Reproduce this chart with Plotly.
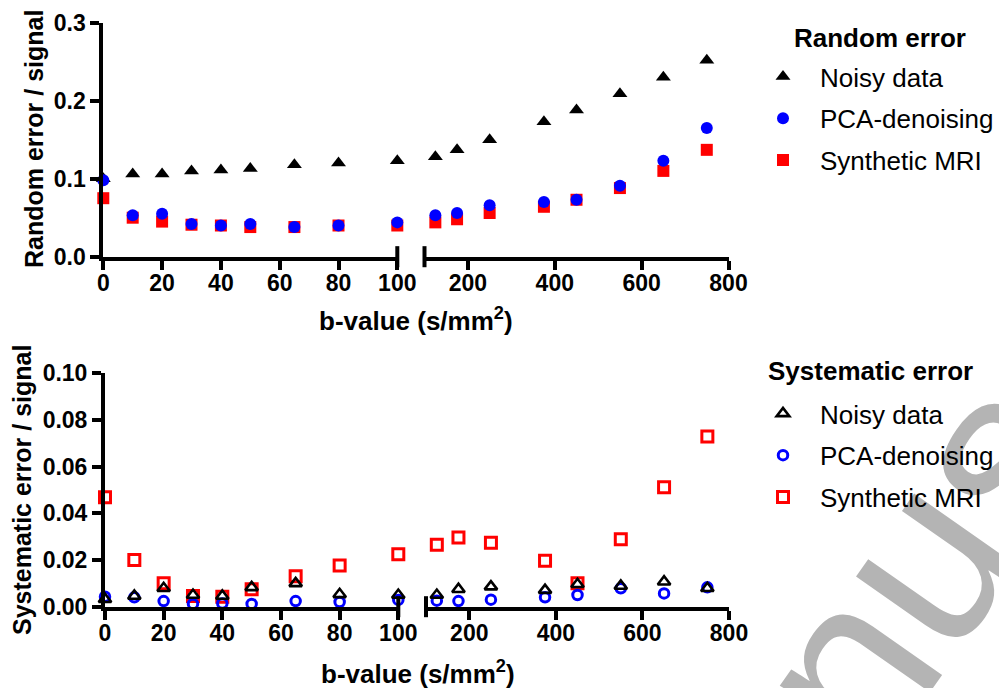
import plotly.graph_objects as go

# ---------------- data ----------------
b_values = [0, 10, 20, 30, 40, 50, 65, 80, 100, 125, 175, 250, 375, 450, 550, 650, 750]
series_names = ["Noisy data", "PCA-denoising", "Synthetic MRI"]

rand_noisy = [0.100, 0.106, 0.106, 0.110, 0.111, 0.113, 0.118, 0.120, 0.123,
              0.128, 0.137, 0.150, 0.173, 0.188, 0.209, 0.230, 0.252]
rand_pca = [0.098, 0.053, 0.055, 0.042, 0.040, 0.042, 0.038, 0.040, 0.044,
            0.053, 0.056, 0.066, 0.070, 0.073, 0.091, 0.123, 0.165]
rand_synth = [0.075, 0.050, 0.045, 0.041, 0.040, 0.038, 0.038, 0.040, 0.040,
              0.044, 0.048, 0.056, 0.064, 0.073, 0.088, 0.110, 0.137]

sys_noisy = [0.0032, 0.0046, 0.0079, 0.0050, 0.0046, 0.0083, 0.0100, 0.0053, 0.0050,
             0.0050, 0.0075, 0.0086, 0.0071, 0.0096, 0.0089, 0.0107, 0.0079]
sys_pca = [0.0043, 0.0040, 0.0024, 0.0012, 0.0014, 0.0012, 0.0024, 0.0020, 0.0029,
           0.0026, 0.0024, 0.0030, 0.0040, 0.0050, 0.0079, 0.0057, 0.0083]
sys_synth = [0.0469, 0.0200, 0.0100, 0.0046, 0.0043, 0.0075, 0.0130, 0.0176, 0.0225,
             0.0265, 0.0296, 0.0274, 0.0197, 0.0100, 0.0289, 0.0512, 0.0729]

x_ticks_low = [0, 20, 40, 60, 80, 100]
x_ticks_high = [200, 400, 600, 800]
y_ticks_rand = [0.0, 0.1, 0.2, 0.3]
y_ticks_sys = [0.00, 0.02, 0.04, 0.06, 0.08, 0.10]
break_at = 100

# ---------------- styling ----------------
W, H = 999, 688
FONT = "Liberation Sans, Arial, sans-serif"
BLACK = "#000000"
BLUE = "#0000ff"
RED = "#ff0000"


def px_x(p):
    return p / W


def px_y(p):
    return 1 - p / H


def split(xs, ys):
    lo = [(x, y) for x, y in zip(xs, ys) if x <= break_at]
    hi = [(x, y) for x, y in zip(xs, ys) if x > break_at]
    return ([a for a, _ in lo], [b for _, b in lo]), ([a for a, _ in hi], [b for _, b in hi])


fig = go.Figure()

top_specs = [
    ("Noisy data", rand_noisy, dict(symbol="triangle-up", size=13, color=BLACK), 1),
    ("Synthetic MRI", rand_synth, dict(symbol="square", size=12, color=RED), 3),
    ("PCA-denoising", rand_pca, dict(symbol="circle", size=12, color=BLUE), 2),
]
bot_specs = [
    ("Synthetic MRI", sys_synth, dict(symbol="square-open", size=11, color=RED,
                                      line=dict(width=3, color=RED)), 3),
    ("PCA-denoising", sys_pca, dict(symbol="circle-open", size=9.5, color=BLUE,
                                    line=dict(width=3, color=BLUE)), 2),
    ("Noisy data", sys_noisy, dict(symbol="triangle-up-open", size=11, color=BLACK,
                                   line=dict(width=2.6, color=BLACK)), 1),
]

for name, ys, mk, rank in top_specs:
    (xl, yl), (xh, yh) = split(b_values, ys)
    fig.add_trace(go.Scatter(x=xl, y=yl, mode="markers", name=name, marker=mk,
                             xaxis="x", yaxis="y", legend="legend", legendgroup="r" + name,
                             legendrank=rank, cliponaxis=False))
    fig.add_trace(go.Scatter(x=xh, y=yh, mode="markers", name=name, marker=mk,
                             xaxis="x2", yaxis="y", legend="legend", legendgroup="r" + name,
                             showlegend=False, cliponaxis=False))

for name, ys, mk, rank in bot_specs:
    (xl, yl), (xh, yh) = split(b_values, ys)
    fig.add_trace(go.Scatter(x=xl, y=yl, mode="markers", name=name, marker=mk,
                             xaxis="x3", yaxis="y2", legend="legend2", legendgroup="s" + name,
                             legendrank=rank, cliponaxis=False))
    fig.add_trace(go.Scatter(x=xh, y=yh, mode="markers", name=name, marker=mk,
                             xaxis="x4", yaxis="y2", legend="legend2", legendgroup="s" + name,
                             showlegend=False, cliponaxis=False))

tickfont = dict(family=FONT, size=23, color=BLACK, weight="bold")
axis_common = dict(showline=True, linewidth=4, linecolor=BLACK, ticks="outside",
                   ticklen=9, tickwidth=4, tickcolor=BLACK, showgrid=False,
                   zeroline=False, tickfont=tickfont, fixedrange=True)
xaxis_extra = dict(ticklabelstandoff=-6)

fig.update_layout(
    width=W, height=H,
    margin=dict(l=0, r=0, t=0, b=0, pad=0, autoexpand=False),
    paper_bgcolor="white", plot_bgcolor="rgba(0,0,0,0)",
    font=dict(family=FONT, color=BLACK),
    xaxis=dict(domain=[px_x(103.3), px_x(397.3)], range=[0, break_at], anchor="y",
               tickvals=x_ticks_low, **axis_common, **xaxis_extra),
    xaxis2=dict(domain=[px_x(424.5), px_x(728.5)], range=[break_at, 800], anchor="y",
                tickvals=x_ticks_high, **axis_common, **xaxis_extra),
    yaxis=dict(domain=[px_y(256.7), px_y(22.7)], range=[0, 0.3], anchor="x",
               tickvals=y_ticks_rand, tickformat=".1f", **axis_common),
    xaxis3=dict(domain=[px_x(105), px_x(398.3)], range=[0, break_at], anchor="y2",
                tickvals=x_ticks_low, **axis_common, **xaxis_extra),
    xaxis4=dict(domain=[px_x(426), px_x(729)], range=[break_at, 800], anchor="y2",
                tickvals=x_ticks_high, **axis_common, **xaxis_extra),
    yaxis2=dict(domain=[px_y(606.7), px_y(373.3)], range=[0, 0.1], anchor="x3",
                tickvals=y_ticks_sys, tickformat=".2f", **axis_common),
    legend=dict(x=px_x(746), xanchor="left", y=px_y(53), yanchor="top",
                font=dict(family=FONT, size=26, color=BLACK), itemwidth=64,
                tracegroupgap=5, bgcolor="rgba(0,0,0,0)", borderwidth=0),
    legend2=dict(x=px_x(746), xanchor="left", y=px_y(390), yanchor="top",
                 font=dict(family=FONT, size=26, color=BLACK), itemwidth=64,
                 tracegroupgap=5, bgcolor="rgba(0,0,0,0)", borderwidth=0),
)

bold_title = dict(family=FONT, size=26, color=BLACK, weight="bold")
ytitle_font = dict(family=FONT, size=25, color=BLACK, weight="bold")
annotations = [
    dict(text="b-value (s/mm<sup>2</sup>)", x=px_x(416), y=px_y(319), xref="paper", yref="paper",
         showarrow=False, font=bold_title, xanchor="center", yanchor="middle"),
    dict(text="b-value (s/mm<sup>2</sup>)", x=px_x(418), y=px_y(672), xref="paper", yref="paper",
         showarrow=False, font=bold_title, xanchor="center", yanchor="middle"),
    dict(text="Random error / signal", x=px_x(34), y=px_y(139), xref="paper", yref="paper",
         showarrow=False, font=ytitle_font, textangle=-90, xanchor="center", yanchor="middle"),
    dict(text="Systematic error / signal", x=px_x(22), y=px_y(490), xref="paper", yref="paper",
         showarrow=False, font=ytitle_font, textangle=-90, xanchor="center", yanchor="middle"),
    dict(text="Random error", x=px_x(880), y=px_y(38), xref="paper", yref="paper",
         showarrow=False, font=bold_title, xanchor="center", yanchor="middle"),
    dict(text="Systematic error", x=px_x(870), y=px_y(371), xref="paper", yref="paper",
         showarrow=False, font=bold_title, xanchor="center", yanchor="middle"),
]
fig.update_layout(annotations=annotations)

# axis-break markers
shapes = []
for xr, xpos, yr in [("x domain", 1, "y domain"), ("x2 domain", 0, "y domain"),
                     ("x3 domain", 1, "y2 domain"), ("x4 domain", 0, "y2 domain")]:
    shapes.append(dict(type="line", xref=xr, yref=yr, x0=xpos, x1=xpos, y0=-0.045, y1=0.045,
                       line=dict(color=BLACK, width=4)))

# watermark (behind everything)
cx, cy, L = 933, 503, 100
dx, dy = 0.574, -0.819
shapes.append(dict(type="line", xref="paper", yref="paper", layer="below",
                   x0=px_x(cx - L * dx), y0=px_y(cy - L * dy),
                   x1=px_x(cx + L * dx), y1=px_y(cy + L * dy),
                   line=dict(color="rgba(0,0,0,0)", width=0),
                   label=dict(text="manuscript", textposition="middle", textangle=-55,
                              yanchor="middle", xanchor="center",
                              font=dict(family=FONT, size=240, color="#b4b4b4"))))
fig.update_layout(shapes=shapes)

fig.write_html("out.html", config={"displayModeBar": False},
               post_script="document.body.style.margin='0';")
